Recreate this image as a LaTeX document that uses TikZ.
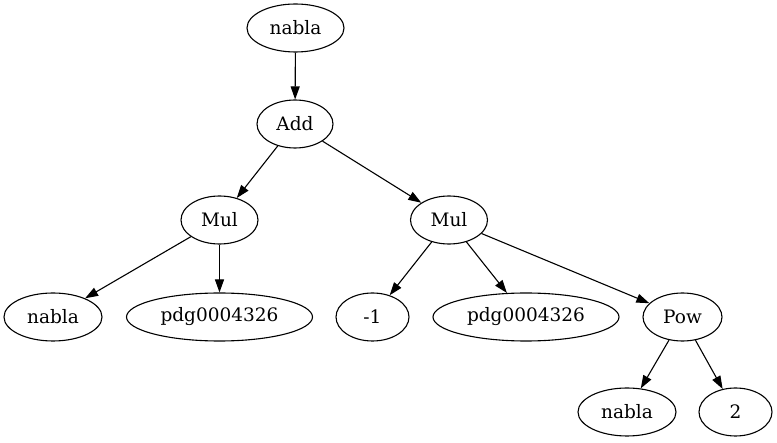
\documentclass[tikz,border=0pt]{standalone}
\usepackage{fontspec}
\setmainfont{DejaVu Serif}
\usepackage{tikz}
\usetikzlibrary{arrows.meta,shapes.geometric,positioning}
\tikzset{
  treenode/.style={draw,ellipse,inner sep=0pt,minimum height=48pt,line width=1.1pt,font=\fontsize{18.5}{22}\selectfont},
  edge/.style={line width=1.1pt,-{Triangle[length=13pt,width=9pt]}}
}

\begin{document}
\begin{tikzpicture}[x=1pt,y=-1pt]
\useasboundingbox (0,0) rectangle (777,443);
\node[treenode,minimum width=97pt] (top) at (295.5,28) {nabla};
\node[treenode,minimum width=76pt] (add) at (295,124) {Add};
\node[treenode,minimum width=77pt] (mulL) at (219.5,220) {Mul};
\node[treenode,minimum width=77pt] (mulR) at (449,220) {Mul};
\node[treenode,minimum width=98pt] (nablaL) at (53,317) {nabla};
\node[treenode,minimum width=186pt] (pdgL) at (219.5,317) {pdg0004326};
\node[treenode,minimum width=73pt] (minus) at (372.5,317) {-1};
\node[treenode,minimum width=186pt] (pdgR) at (526,317) {pdg0004326};
\node[treenode,minimum width=79pt] (pow) at (682.5,317) {Pow};
\node[treenode,minimum width=98pt] (nablaB) at (627,412) {nabla};
\node[treenode,minimum width=73pt] (two) at (735.5,412) {2};
\draw[edge] (top) -- (add);
\draw[edge] (add) -- (mulL);
\draw[edge] (add) -- (mulR);
\draw[edge] (mulL) -- (nablaL);
\draw[edge] (mulL) -- (pdgL);
\draw[edge] (mulR) -- (minus);
\draw[edge] (mulR) -- (pdgR);
\draw[edge] (mulR) -- (pow);
\draw[edge] (pow) -- (nablaB);
\draw[edge] (pow) -- (two);
\end{tikzpicture}
\end{document}
